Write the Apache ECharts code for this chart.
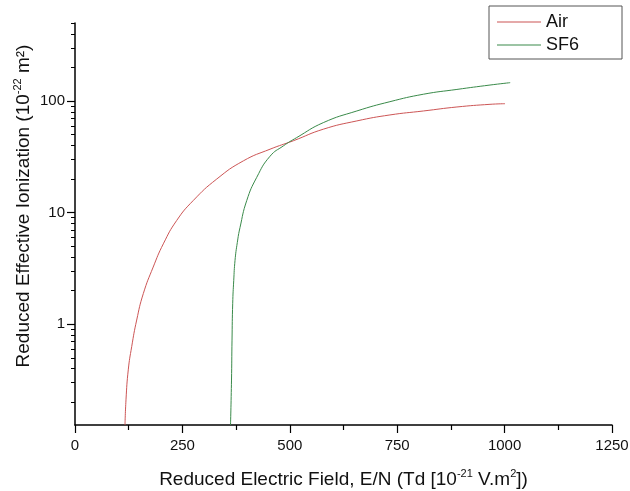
<!DOCTYPE html>
<html>
<head>
<meta charset="utf-8">
<script src="https://cdn.jsdelivr.net/npm/echarts@6/dist/echarts.min.js"></script>
<style>
  html, body { margin: 0; background: #fff; }
  #chart { width: 630px; height: 491px; }
</style>
</head>
<body>
<div id="chart"></div>
<script>
// Reduced effective ionization coefficient vs reduced electric field (log y)
const airE = [116.4, 118.7, 124, 132, 143.6, 159, 182, 205.6, 236.7, 275, 330, 392, 454, 508, 578, 656, 733, 811, 889, 966, 1001];
const airK = [0.125, 0.21, 0.39, 0.63, 1.09, 1.88, 3.25, 5.25, 8.5, 12.8, 20, 29.1, 37, 44, 55.9, 66.3, 75, 81.4, 88.4, 93.4, 94.6];
const sf6E = [362, 364.3, 365.5, 367.1, 369.5, 372.5, 377.8, 384.1, 399.7, 423, 454, 485, 516, 578, 656, 733, 811, 889, 966, 1013];
const sf6K = [0.125, 0.316, 0.72, 1.54, 2.47, 3.73, 5.39, 7.35, 12.8, 20.7, 32, 39.6, 47, 64, 81.4, 98.6, 115, 127, 139, 146];

const yMajor = [1, 10, 100];
const yMinor = [0.2, 0.3, 0.4, 0.5, 0.6, 0.7, 0.8, 0.9,
  2, 3, 4, 5, 6, 7, 8, 9, 20, 30, 40, 50, 60, 70, 80, 90, 200, 300, 400, 500];

const FONT = '"Liberation Sans", Arial, sans-serif';
const pairs = (xs, ys) => xs.map((x, i) => [x, ys[i]]);

const chart = echarts.init(document.getElementById('chart'));

const rich = {
  t: { fontSize: 19, lineHeight: 23, fontFamily: FONT, color: '#111' },
  s: { fontSize: 11, lineHeight: 11, verticalAlign: 'top', fontFamily: FONT, color: '#111' },
};

const axisLine = { show: true, lineStyle: { color: '#000', width: 1.5 } };

chart.setOption({
  animation: false,
  backgroundColor: '#fff',
  grid: { left: 75, right: 18, top: 23, bottom: 66, outerBoundsMode: 'none' },
  legend: {
    orient: 'vertical', left: 489, top: 6,
    padding: [7, 43, 5, 8],
    icon: 'rect', itemWidth: 44, itemHeight: 1, itemGap: 5,
    borderColor: '#555', borderWidth: 1,
    textStyle: { fontSize: 18, fontFamily: FONT, color: '#111' },
    data: ['Air', 'SF6'],
  },
  xAxis: {
    type: 'value', min: 0, max: 1250, interval: 250,
    name: '{t|Reduced Electric Field, E/N (Td [10}{s|-21}{t| V.m}{s|2}{t|])}',
    nameLocation: 'middle', nameGap: 43, nameMoveOverlap: false,
    nameTextStyle: { rich },
    axisLine,
    axisTick: { show: true, length: 8, lineStyle: { color: '#000', width: 1.2 } },
    minorTick: { show: true, splitNumber: 2, length: 5, lineStyle: { color: '#000', width: 1.2 } },
    axisLabel: { margin: 13, fontSize: 15, fontFamily: FONT, color: '#111', formatter: v => String(v) },
    splitLine: { show: false },
  },
  yAxis: [{
    type: 'log', min: 0.125, max: 500,
    name: '{t|Reduced Effective Ionization (10}{s|-22}{t| m²)}',
    nameLocation: 'middle', nameRotate: 90, nameGap: 40, nameMoveOverlap: false,
    nameTextStyle: { rich, padding: [0, 0, 0, 36] },
    axisLine,
    axisTick: { show: true, length: 8, customValues: yMajor, lineStyle: { color: '#000', width: 1.2 } },
    axisLabel: { margin: 10, fontSize: 15, fontFamily: FONT, color: '#111', customValues: yMajor },
    splitLine: { show: false },
  }, {
    type: 'log', min: 0.125, max: 500, position: 'left',
    axisLine: { show: false },
    axisTick: { show: true, length: 4, customValues: yMinor, lineStyle: { color: '#000', width: 1 } },
    axisLabel: { show: false },
    splitLine: { show: false },
  }],
  series: [{
    name: 'Air', type: 'line', data: pairs(airE, airK),
    smooth: 0.5, symbol: 'none',
    lineStyle: { color: '#cc5555', width: 1 }, itemStyle: { color: '#cc5555' },
  }, {
    name: 'SF6', type: 'line', data: pairs(sf6E, sf6K),
    smooth: 0.5, symbol: 'none',
    lineStyle: { color: '#3a8a4a', width: 1 }, itemStyle: { color: '#3a8a4a' },
  }],
});
</script>
</body>
</html>
